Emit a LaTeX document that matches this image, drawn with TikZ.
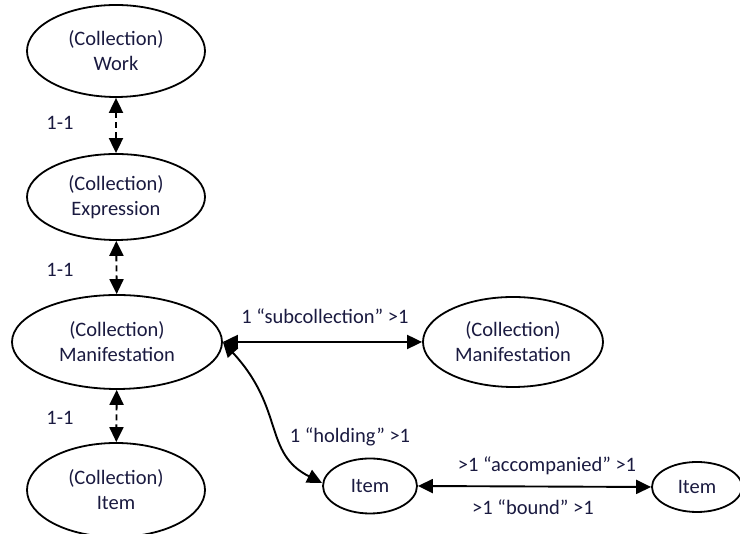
\documentclass[tikz,border=0pt]{standalone}
\usepackage{fontspec}
\setmainfont{Carlito}
\usetikzlibrary{shapes.geometric,arrows.meta}
\definecolor{txt}{HTML}{1A1A40}
\begin{document}
\begin{tikzpicture}[x=1pt,y=1pt,
  ent/.style={ellipse,draw,line width=1.8pt,inner sep=0pt,text=txt,align=center,font=\fontsize{20.5}{25}\selectfont},
  lbl/.style={text=txt,font=\fontsize{20.5}{25}\selectfont,inner sep=0pt},
  rel/.style={line width=1.9pt,{Triangle[length=15pt,width=14pt]}-{Triangle[length=15pt,width=14pt]}},
  dsh/.style={rel,dash pattern=on 6pt off 4pt}]
\useasboundingbox (0,0) rectangle (740,534);
\node[ent,minimum width=178,minimum height=92] (work) at (116,483) {(Collection)\\Work};
\node[ent,minimum width=178,minimum height=86] (expr) at (116,337) {(Collection)\\Expression};
\node[ent,minimum width=210,minimum height=94] (manL) at (117,192) {(Collection)\\Manifestation};
\node[ent,minimum width=178,minimum height=94] (citem) at (116,44) {(Collection)\\Item};
\node[ent,minimum width=180,minimum height=90] (manR) at (513,192) {(Collection)\\Manifestation};
\node[ent,minimum width=94,minimum height=55] (item) at (370,48) {Item};
\node[ent,minimum width=90,minimum height=50] (item2) at (697,47) {Item};
\draw[dsh] (work) -- (expr);
\draw[dsh] (expr) -- (manL);
\draw[dsh] (manL) -- (citem);
\draw[rel] (manL.east) -- (manR.west);
\draw[rel] (manL.east) .. controls (285,125) and (263,81) .. ([yshift=3pt]item.west);
\draw[rel] (item.east) -- (item2.west);
\node[lbl] (l1) at (60,411) {1-1};
\node[lbl] (l2) at (60,264) {1-1};
\node[lbl] (l3) at (60,116) {1-1};
\node[lbl] (ls) at (325,218) {1 “subcollection” >1};
\node[lbl] (lh) at (350,97) {1 “holding” >1};
\node[lbl] (la) at (547,68) {>1 “accompanied” >1};
\node[lbl] (lb) at (533,27) {>1 “bound” >1};
\end{tikzpicture}
\end{document}
